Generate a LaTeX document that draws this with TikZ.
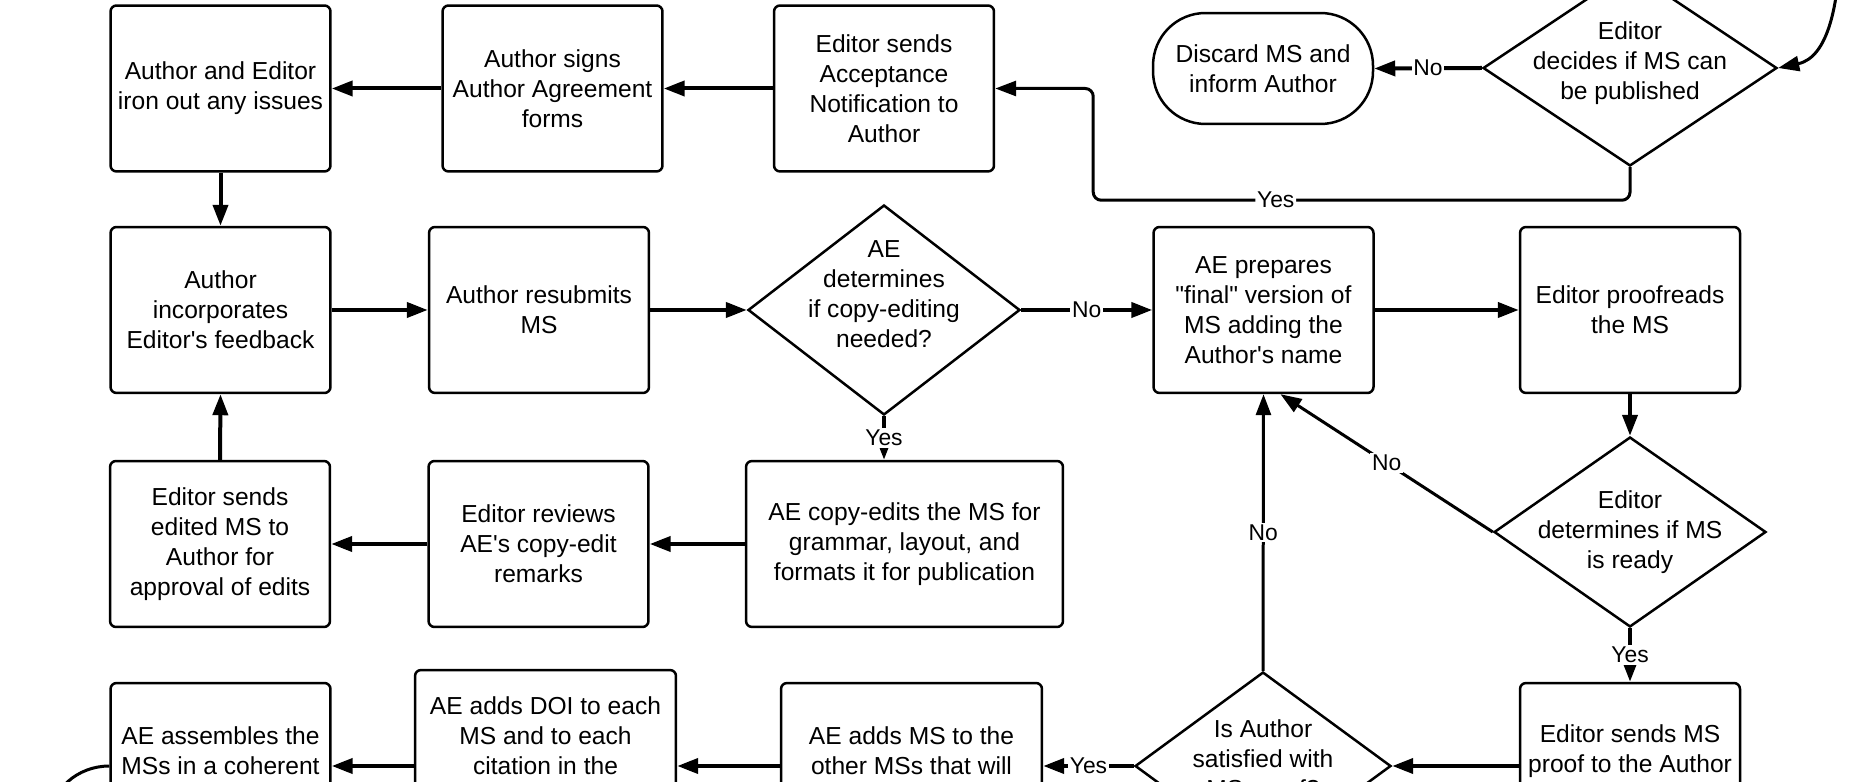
\documentclass[tikz,border=0pt]{standalone}
\usepackage{fontspec}
\setmainfont{Liberation Sans}[Ligatures=TeXOff]
\usepackage{tikz}
\usetikzlibrary{arrows.meta,calc,shapes.geometric}

\begin{document}
\begin{tikzpicture}[x=0.02cm,y=0.02cm,font=\fontsize{14}{17.1}\selectfont,
  box/.style={draw,line width=0.05cm,rounded corners=0.12cm,align=center,minimum width=4.4cm,minimum height=3.32cm,inner sep=2pt},
  term/.style={draw,line width=0.05cm,rounded corners=1.05cm,align=center,minimum width=4.4cm,minimum height=2.22cm},
  decision/.style={draw,diamond,line width=0.05cm,inner sep=0pt},
  dtext/.style={align=center,inner sep=0pt},
  flow/.style={line width=0.08cm,-{Triangle[length=0.42cm,width=0.3cm]}},
  thinflow/.style={flow,line width=0.06cm},
  lbl/.style={fill=white,inner sep=1pt,font=\fontsize{13}{15}\selectfont}]
  \useasboundingbox (0,0) rectangle (1871,781);
  \clip (0,0) rectangle (1871,781);
  % top row
  \node[box] (a1) at (220.5,692.5) {Author and Editor\\iron out any issues};
  \node[box] (a2) at (552.5,692.5) {Author signs\\Author Agreement\\forms};
  \node[box] (a3) at (884,692.5) {Editor sends\\Acceptance\\Notification to\\Author};
  \node[term] (discard) at (1263,712.5) {Discard MS and\\inform Author};
  \node[decision,minimum width=5.88cm,minimum height=3.92cm,
    label={[dtext,yshift=0.1cm]center:{Editor\\decides if MS can\\be published}}] (d1) at (1630,713) {};
  % second row
  \node[box] (b1) at (220.5,471) {Author\\incorporates\\Editor's feedback};
  \node[box] (b2) at (539,471) {Author resubmits\\MS};
  \node[decision,minimum width=5.44cm,minimum height=4.2cm,
    label={[dtext,yshift=0.32cm]center:{AE\\determines\\if copy-editing\\needed?}}] (d2) at (884,471) {};
  \node[box] (b3) at (1263.5,471) {AE prepares\\"final" version of\\MS adding the\\Author's name};
  \node[box] (b4) at (1630,471) {Editor proofreads\\the MS};
  % third row
  \node[box] (c1) at (220,237) {Editor sends\\edited MS to\\Author for\\approval of edits};
  \node[box] (c2) at (538.5,237) {Editor reviews\\AE's copy-edit\\remarks};
  \node[box,minimum width=6.34cm] (c3) at (904.5,237) {AE copy-edits the MS for\\grammar, layout, and\\formats it for publication};
  \node[decision,minimum width=5.44cm,minimum height=3.8cm,
    label={[dtext]center:{Editor\\determines if MS\\is ready}}] (d3) at (1630,249) {};
  % bottom row (cut by the page edge)
  \node[box,label={[dtext,yshift=0.3cm]center:{Editor sends MS\\proof to the Author}}] (c4) at (1630,15) {};
  \node[decision,minimum width=5.12cm,minimum height=3.76cm,
    label={[dtext,yshift=0.1cm]center:{Is Author\\satisfied with\\MS proof?}}] (d4) at (1263,15) {};
  \node[box,minimum width=5.22cm,label={[dtext,yshift=0.3cm]center:{AE adds MS to the\\other MSs that will}}] (c5) at (911.5,15) {};
  \node[box,minimum width=5.22cm,minimum height=3.84cm,label={[dtext,yshift=0.6cm]center:{AE adds DOI to each\\MS and to each\\citation in the}}] (c6) at (545.5,15) {};
  \node[box,label={[dtext,yshift=0.3cm]center:{AE assembles the\\MSs in a coherent}}] (c7) at (220.5,15) {};
  \coordinate (incoming) at (1840,830);
  \coordinate (outgoing) at (50,-40);

  \draw[flow] (a3.west) -- (a2.east);
  \draw[flow] (a2.west) -- (a1.east);
  \draw[flow] (a1.south) -- (b1.north);
  \draw[flow] (b1.east) -- (b2.west);
  \draw[flow] (b2.east) -- (d2.west);
  \draw[flow] (d2.east) -- node[lbl]{No} (b3.west);
  \draw[flow] (b3.east) -- (b4.west);
  \draw[flow] (b4.south) -- (d3.north);
  \draw[flow] (d3.south) -- node[lbl]{Yes} (c4.north);
  \draw[thinflow] (d3.west) -- node[lbl]{No} ($(b3.south)+(17,0)$);
  \draw[flow] (d2.south) -- node[lbl]{Yes} (d2.south |- c3.north);
  \draw[flow] (c3.west) -- (c2.east);
  \draw[flow] (c2.west) -- (c1.east);
  \draw[flow] (c1.north) -- (b1.south);
  \draw[flow] (c4.west) -- (d4.east);
  \draw[flow] (d4.west) -- node[lbl]{Yes} (c5.east);
  \draw[flow] (c5.west) -- (c6.east);
  \draw[flow] (c6.west) -- (c7.east);
  \draw[thinflow] (d4.north) -- node[lbl]{No} (b3.south);
  \draw[flow] (d1.west) -- node[lbl]{No} (discard.east);
  \draw[thinflow,rounded corners=0.16cm] (d1.south) -- ++(0,-33) -| node[lbl,pos=0.33]{Yes} ($(a3.east)+(98,0)$) -- (a3.east);
  \draw[thinflow] (incoming) to[out=-92,in=12] (d1.east);
  \draw[line width=0.06cm] (c7.west) to[out=180,in=90] (outgoing);
\end{tikzpicture}
\end{document}
